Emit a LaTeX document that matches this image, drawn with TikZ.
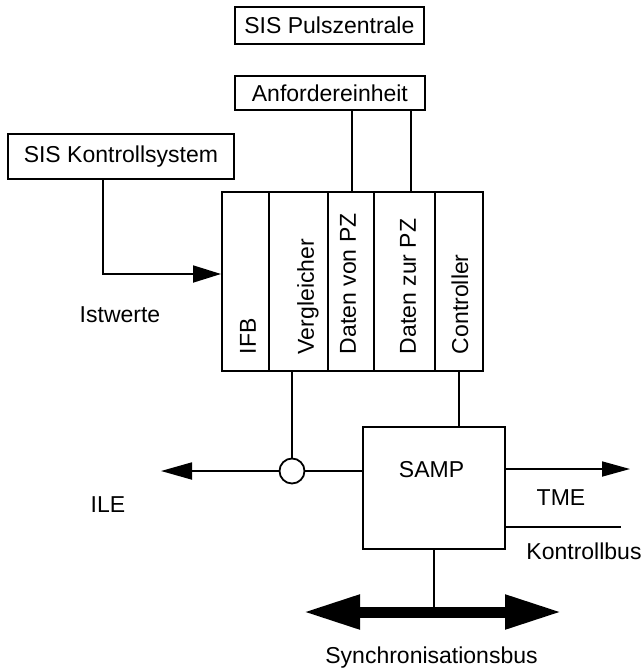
\documentclass[tikz,border=0pt]{standalone}
\usepackage{fontspec}
\setmainfont{Liberation Sans}
\usetikzlibrary{arrows.meta}
\begin{document}
\begin{tikzpicture}[x=1pt,y=-1pt,
  line width=1.8pt,
  every node/.style={font=\fontsize{23}{27}\selectfont},
  box/.style={draw,inner sep=0pt,anchor=north west},
  txt/.style={inner sep=0pt},
  coltxt/.style={inner sep=0pt,rotate=90,anchor=west},
  tip/.style={-{Triangle[length=28pt,width=17pt]}},
  ]
\useasboundingbox (0,0) rectangle (642,669);

% upper boxes
\node[box,minimum width=189pt,minimum height=37pt] (puls) at (234,6) {};
\node[txt] at (puls.center) {SIS Pulszentrale};
\node[box,minimum width=190pt,minimum height=34pt] (anf) at (234,75) {};
\node[txt] at (anf.center) {Anfordereinheit};
\node[box,minimum width=226pt,minimum height=45pt] (ks) at (7,133) {};
\node[txt] at (ks.center) {SIS Kontrollsystem};

% column block
\node[box,minimum width=47pt,minimum height=179pt] (ifb)  at (221,191) {};
\node[box,minimum width=59pt,minimum height=179pt] (vgl)  at (268,191) {};
\node[box,minimum width=46pt,minimum height=179pt] (dvpz) at (327,191) {};
\node[box,minimum width=61pt,minimum height=179pt] (dzpz) at (373,191) {};
\node[box,minimum width=48pt,minimum height=179pt] (ctrl) at (434,191) {};
\node[coltxt] at (248,355) {IFB};
\node[coltxt] at (308,355) {Vergleicher};
\node[coltxt] at (348,355) {Daten von PZ};
\node[coltxt] at (408,355) {Daten zur PZ};
\node[coltxt] at (460,355) {Controller};

% SAMP and its surroundings
\node[box,minimum width=142pt,minimum height=122pt] (samp) at (362,426) {};
\node[txt] at (431.5,469.5) {SAMP};
\node[draw,circle,fill=white,minimum size=25pt,inner sep=0pt] (circ) at (292,471) {};

\coordinate (tapA) at (352,191);
\coordinate (tapB) at (411,191);
\coordinate (bend) at (103,274);
\coordinate (ileTip) at (161,471);
\coordinate (tmeTip) at (630,469);
\coordinate (tmeStart) at (504,469);
\coordinate (kbStart) at (504,527);
\coordinate (kbEnd) at (621,527);
\coordinate (busL) at (303,612);
\coordinate (busR) at (562,612);

% connectors
\draw (tapA |- anf.south) -- (tapA);
\draw (tapB |- anf.south) -- (tapB);
\draw[tip] (bend |- ks.south) -- (bend) -- (bend -| ifb.west);
\draw (circ.north) -- (circ.north |- vgl.south);
\draw (ctrl.south) -- (ctrl.south |- samp.north);
\draw (circ.east) -- (circ.east -| samp.west);
\draw[-{Triangle[length=31pt,width=17pt]}] (circ.west) -- (ileTip);
\draw[-{Triangle[length=28pt,width=15pt]}] (tmeStart) -- (tmeTip);
\draw (kbStart) -- (kbEnd);
\draw (samp.south) -- (samp.south |- busL);
\draw[line width=11pt,{Triangle[length=57pt,width=32pt]}-{Triangle[length=57pt,width=32pt]}] (busL) -- (busR);

% labels
\node[txt] at (120,315) {Istwerte};
\node[txt] at (108,505) {ILE};
\node[txt] at (561,498) {TME};
\node[txt] at (584,551.5) {Kontrollbus};
\node[txt] at (431.5,657.5) {Synchronisationsbus};
\end{tikzpicture}
\end{document}
